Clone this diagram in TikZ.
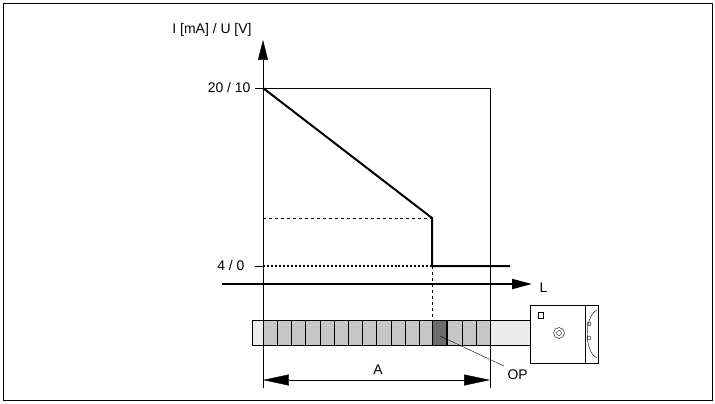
\documentclass[tikz,border=0pt]{standalone}
\usepackage{fontspec}
\setmainfont{Liberation Sans}
\usetikzlibrary{arrows.meta}
\begin{document}
\begin{tikzpicture}[x=1bp, y=-1bp, font=\fontsize{14}{16}\selectfont,
    thick line/.style={line width=2pt},
    dim arrow/.style={{Triangle[length=26pt,width=11pt]}-{Triangle[length=26pt,width=11pt]}},
    axis arrow/.style={-{Triangle[length=20pt,width=10pt]}}]
  \useasboundingbox (0,0) rectangle (715,403);
  \draw[line width=0.8pt] (3,3) rectangle (712,400);

  % axes
  \coordinate (o) at (263,388);
  \coordinate (ytop) at (263,40);
  \draw[axis arrow] (o) -- (ytop);
  \node[anchor=south] (ylab) at (212,40) {I [mA] / U [V]};
  \coordinate (lstart) at (222,284);
  \coordinate (lend) at (532,284);
  \draw[axis arrow, thick line] (lstart) -- (lend);
  \node[anchor=west] (llab) at (536,288) {L};

  % curve
  \coordinate (top) at (263,88);
  \coordinate (knee) at (432,218);
  \coordinate (low) at (432,266);
  \draw (top) -- (490,88) -- (490,388);
  \draw[thick line] (top) -- (knee) -- (low) -- (510,266);
  \draw[dashed] (263,218) -- (knee);
  \draw[dotted, thick line] (263,266) -- (low);
  \draw[dashed] (low) -- (432,325);
  \draw (255,88) -- (top);
  \draw (255,266) -- (263,266);
  \node[anchor=east] (hi) at (254,88) {20 / 10};
  \node[anchor=east] (lo) at (248,266) {4 / 0};

  % rod
  \draw[fill=gray!15, semithick] (252,320) rectangle (532,345);
  \foreach \i in {0,...,15}
    \draw[fill=gray!45, semithick] (263+14.2*\i,320) rectangle (263+14.2*\i+14.2,345);
  \draw[fill=gray!85!black] (432,320) rectangle (446,345);

  % sensor head
  \draw[fill=white, semithick] (530,305) rectangle (598,363);
  \draw (585,305) -- (585,363);
  \draw (597,310) .. controls (584,316) and (584,352) .. (597,358);
  \draw (538,312) rectangle (543,318);
  \draw (559,333) circle[radius=5.5];
  \draw (559,333) circle[radius=2.5];
  \draw (589,324) circle[radius=2];
  \draw (589,338) circle[radius=2];

  % dimension and OP
  \coordinate (da) at (263,380);
  \coordinate (db) at (490,380);
  \draw[dim arrow] (da) -- (db);
  \node[anchor=south] (alab) at (378,378) {A};
  \node[anchor=north west] (op) at (504,366) {OP};
  \draw (440,336) -- (op.north west);
\end{tikzpicture}
\end{document}
